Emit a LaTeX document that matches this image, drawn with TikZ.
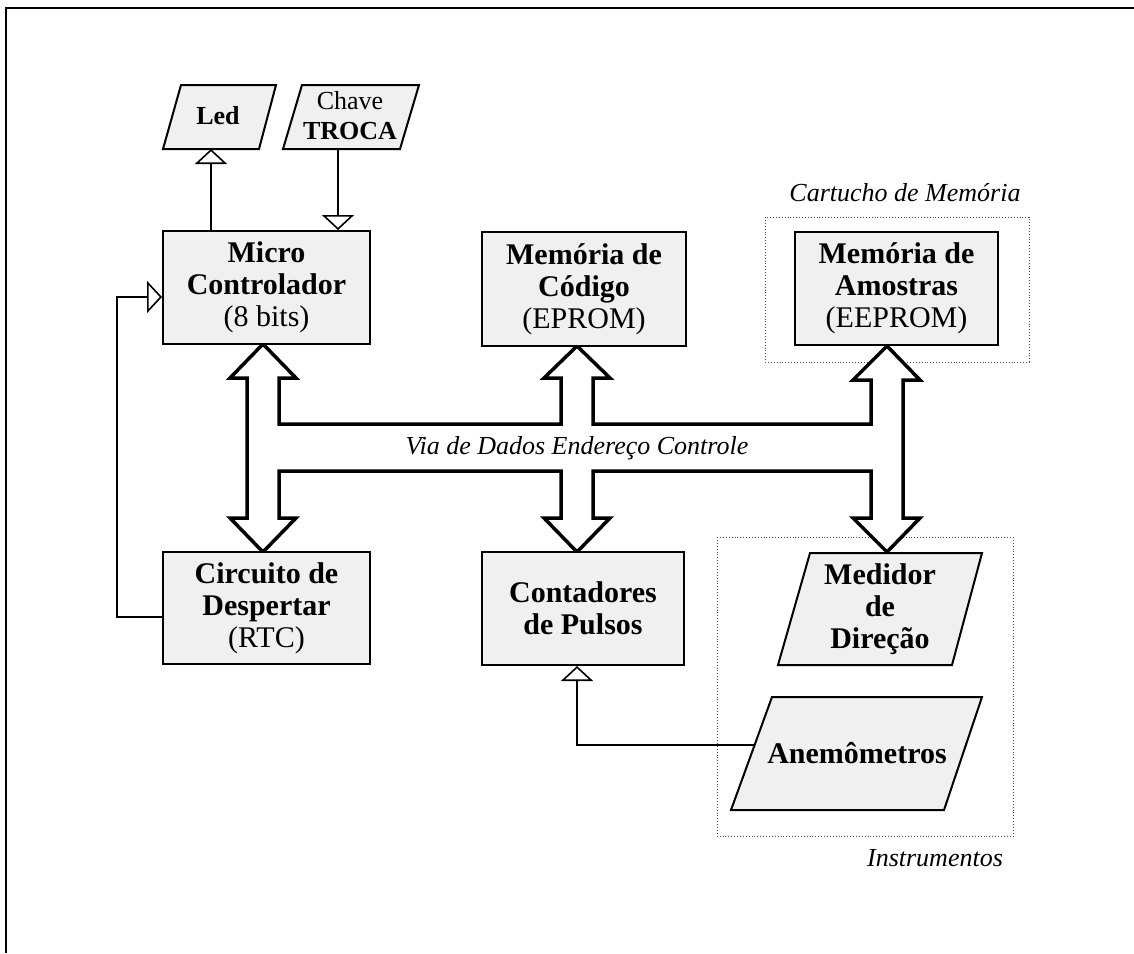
\documentclass[tikz,border=0pt]{standalone}
\usepackage{fontspec}
\setmainfont{Liberation Serif}
\usetikzlibrary{arrows.meta}
\newcommand{\lblB}{\fontsize{30}{32}\selectfont\bfseries}
\newcommand{\lblS}{\fontsize{26}{30}\selectfont}
\newcommand{\lblI}{\fontsize{26}{28}\selectfont\itshape}
\begin{document}
\begin{tikzpicture}[x=1pt,y=-1pt,
  box/.style={draw=black, line width=2pt, fill=black!6, inner sep=0pt, align=center, font=\lblB},
  para/.style={draw=black, line width=2pt, fill=black!6, line join=miter},
  ptext/.style={inner sep=0pt, align=center, font=\lblB},
  conn/.style={draw=black, line width=1.6pt},
  openT/.style={-{Triangle[open,length=15pt,width=32pt]}},
  bus/.style={draw=black, line width=3.5pt, line join=miter, fill=white},
  group/.style={draw=black!70, line width=0.9pt, dotted},
  note/.style={inner sep=0pt, font=\lblI}
]
\useasboundingbox (0,0) rectangle (1134,953);
% frame
\draw[line width=2pt] (6,953) -- (6,8) -- (1134,8);

% dotted groups
\draw[group] (765,217) rectangle (1029,362);
\draw[group] (717,537) rectangle (1013,836);
\node[note] (cart) at (905,193) {Cartucho de Memória};
\node[note] (instr) at (935,858) {Instrumentos};

% bus
\draw[bus] (263,344) -- (296,378) -- (279,378) -- (279,424) -- (561,424) -- (561,378) -- (544,378)
  -- (577,346) -- (610,378) -- (593,378) -- (593,424) -- (871,424) -- (871,380) -- (853,380)
  -- (887,346) -- (920,380) -- (903,380) -- (903,518) -- (920,518) -- (887,552) -- (853,518)
  -- (871,518) -- (871,471) -- (593,471) -- (593,518) -- (610,518) -- (577,552) -- (544,518)
  -- (561,518) -- (561,471) -- (279,471) -- (279,518) -- (296,518) -- (263,552) -- (230,518)
  -- (247,518) -- (247,378) -- (230,378) -- cycle;
\node[note] (buslbl) at (577,448) {Via de Dados Endereço Controle};

% boxes
\node[box, minimum width=207pt, minimum height=113pt] (micro) at (266.5,287.5) {Micro\\Controlador\\{\mdseries (8 bits)}};
\node[box, minimum width=204pt, minimum height=114pt] (codigo) at (584,289) {Memória de\\Código\\{\mdseries (EPROM)}};
\node[box, minimum width=203pt, minimum height=113pt] (amostras) at (896.5,288.5) {Memória de\\Amostras\\{\mdseries (EEPROM)}};
\node[box, minimum width=207pt, minimum height=112pt] (circuito) at (266.5,608) {Circuito de\\Despertar\\{\mdseries (RTC)}};
\node[box, minimum width=202pt, minimum height=113pt] (contadores) at (583,608.5) {Contadores\\de Pulsos};

% parallelograms
\draw[para] (181,85) -- (276,85) -- (259,149) -- (163,149) -- cycle;
\node[ptext, font=\lblS\bfseries] (led) at (218,116) {Led};
\draw[para] (302,85) -- (419,85) -- (400,149) -- (283,149) -- cycle;
\node[ptext, font=\lblS] (chave) at (350,116) {Chave\\\textbf{TROCA}};
\draw[para] (810,553) -- (982,553) -- (952,665) -- (778,665) -- cycle;
\node[ptext] (medidor) at (880,609) {Medidor\\de\\Direção};
\draw[para] (772,697) -- (982,697) -- (944,810) -- (731,810) -- cycle;
\node[ptext] (anem) at (857,753) {Anemômetros};

% connector end points on the slanted shapes
\coordinate (ledB) at (211,149);
\coordinate (chaveB) at (338,149);
\coordinate (anemL) at (754,745);

% thin connectors
\draw[conn, openT] (micro.north -| ledB) -- (ledB);
\draw[conn, openT] (chaveB) -- (micro.north -| chaveB);
\draw[conn, openT] (circuito.west |- 0,617) -- (117,617) -- (117,297) -- (micro.west |- 0,297);
\draw[conn, openT] (anemL) -- (577,745) -- (contadores.south -| 577,0);
\end{tikzpicture}
\end{document}
